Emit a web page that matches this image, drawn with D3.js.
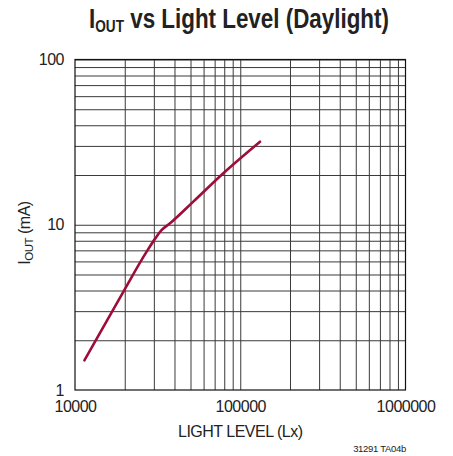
<!DOCTYPE html>
<html>
<head>
<meta charset="utf-8">
<script src="https://cdn.jsdelivr.net/npm/d3@7"></script>
<style>
  html, body { margin: 0; padding: 0; background: #fff; }
  svg { display: block; }
  .tick-label { font-family: "Liberation Sans", Arial, sans-serif; font-size: 16px; letter-spacing: -0.5px; fill: #222; }
</style>
</head>
<body>
<svg id="chart" width="453" height="456"></svg>
<script>
// Measured output current against illuminance (daylight)
const lightLevel = [11400, 19600, 27200, 30700, 33500, 37600, 52000, 79000, 131700];
const iOut       = [1.51, 3.93, 6.9, 8.3, 9.3, 10.2, 13.8, 20.5, 31.8];

const xTickValues = [10000, 100000, 1000000];
const yTickValues = [1, 10, 100];
const xGridValues = [2e4, 3e4, 4e4, 5e4, 6e4, 7e4, 8e4, 9e4, 1e5, 2e5, 3e5, 4e5, 5e5, 6e5, 7e5, 8e5, 9e5];
const yGridValues = [2, 3, 4, 5, 6, 7, 8, 9, 10, 20, 30, 40, 50, 60, 70, 80, 90, 100];

const margin = { left: 75, right: 47.5, top: 59.5, bottom: 66 };
const W = 453, H = 456;
const width = W - margin.left - margin.right;
const height = H - margin.top - margin.bottom;

const svg = d3.select("#chart");
const g = svg.append("g").attr("transform", `translate(${margin.left},${margin.top})`);

const x = d3.scaleLog().domain([10000, 1000000]).range([0, width]);
const y = d3.scaleLog().domain([1, 100]).range([height, 0]);

// Grid
const gx = g.append("g")
  .attr("transform", `translate(0,${height})`)
  .call(d3.axisBottom(x).tickValues(xGridValues).tickSize(-height).tickFormat(""));
gx.select(".domain").remove();
gx.selectAll("line").attr("stroke", "#3a3a3a").attr("stroke-width", 1);

const gy = g.append("g")
  .call(d3.axisLeft(y).tickValues(yGridValues).tickSize(-width).tickFormat(""));
gy.select(".domain").remove();
gy.selectAll("line").attr("stroke", "#3a3a3a").attr("stroke-width", 1);

// Frame
g.append("rect")
  .attr("x", 0).attr("y", 0).attr("width", width).attr("height", height)
  .attr("fill", "none").attr("stroke", "#111").attr("stroke-width", 1.2);

// Tick labels
const ax = g.append("g")
  .attr("transform", `translate(0,${height})`)
  .call(d3.axisBottom(x).tickValues(xTickValues).tickSize(0).tickPadding(11).tickFormat(d3.format("d")));
ax.select(".domain").remove();
ax.selectAll("text").attr("class", "tick-label");

const ay = g.append("g")
  .call(d3.axisLeft(y).tickValues(yTickValues).tickSize(0).tickPadding(11).tickFormat(d3.format("d")));
ay.select(".domain").remove();
ay.selectAll("text").attr("class", "tick-label");

// Curve
const line = d3.line()
  .x((d, i) => x(lightLevel[i]))
  .y((d, i) => y(iOut[i]))
  .curve(d3.curveMonotoneX);

g.append("path")
  .datum(iOut)
  .attr("d", line)
  .attr("fill", "none")
  .attr("stroke", "#9e0d39")
  .attr("stroke-width", 2.6)
  .attr("stroke-linecap", "round")
  .attr("stroke-linejoin", "round");

// Title (condensed bold)
const title = svg.append("g")
  .attr("transform", "translate(239,28.3) scale(0.8,1)")
  .append("text")
  .attr("x", 0).attr("y", 0)
  .attr("text-anchor", "middle")
  .style("font-family", "'Liberation Sans', Arial, sans-serif")
  .style("font-weight", "bold")
  .style("font-size", "28px")
  .attr("fill", "#222");
title.append("tspan").text("I");
title.append("tspan").attr("dy", 4).style("font-size", "17px").text("OUT");
title.append("tspan").attr("dy", -4).text(" vs Light Level (Daylight)");

// Axis titles
svg.append("text")
  .attr("x", margin.left + width / 2).attr("y", 436.7)
  .attr("text-anchor", "middle")
  .attr("class", "tick-label")
  .text("LIGHT LEVEL (Lx)");

const yt = svg.append("text")
  .attr("transform", "translate(30,233) rotate(-90)")
  .attr("text-anchor", "middle")
  .attr("class", "tick-label");
yt.append("tspan").text("I");
yt.append("tspan").attr("dy", 3).style("font-size", "11.5px").text("OUT");
yt.append("tspan").attr("dy", -3).text(" (mA)");

// Drawing reference number
svg.append("text")
  .attr("x", 406).attr("y", 451.7)
  .attr("text-anchor", "end")
  .style("font-family", "'Liberation Sans', Arial, sans-serif")
  .style("font-size", "9.5px")
  .style("letter-spacing", "-0.3px")
  .attr("fill", "#222")
  .text("31291 TA04b");
</script>
</body>
</html>
